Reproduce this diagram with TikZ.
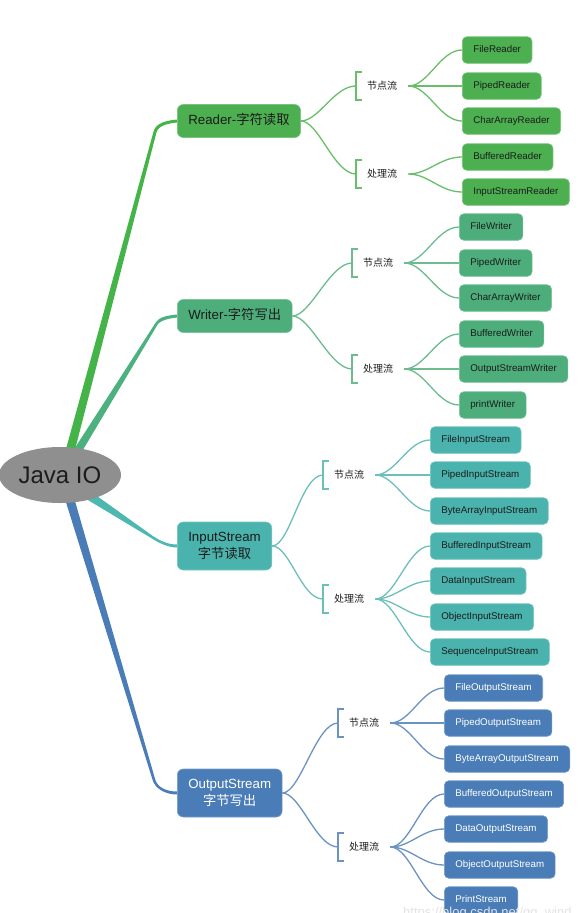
\documentclass[tikz,border=0pt]{standalone}
\usepackage{fontspec}
\setmainfont{Liberation Sans}
\newfontfamily\cjk{Noto Sans CJK SC}
\usetikzlibrary{calc,shapes.geometric,backgrounds}
\definecolor{colR}{HTML}{4CAF50}
\definecolor{colRT}{HTML}{44B449}
\definecolor{colRL}{HTML}{6BBE69}
\definecolor{colW}{HTML}{4DAE7B}
\definecolor{colWT}{HTML}{4DB07F}
\definecolor{colWL}{HTML}{6DBC90}
\definecolor{colI}{HTML}{4AB3AD}
\definecolor{colIT}{HTML}{4DB8B0}
\definecolor{colIL}{HTML}{6CC0BA}
\definecolor{colO}{HTML}{4A7DB7}
\definecolor{colOT}{HTML}{4A7DB8}
\definecolor{colOL}{HTML}{6A93C2}
\definecolor{colTxt}{HTML}{1C1C1C}
\definecolor{colEll}{HTML}{8F8F8F}
\begin{document}
\begin{tikzpicture}[x=1pt,y=-1pt,
  catbox/.style={rounded corners=6pt, inner xsep=11pt, inner ysep=0pt, minimum height=33pt,
    align=center, font=\fontsize{13.3}{17}\selectfont, anchor=west},
  leafbox/.style={rounded corners=4.5pt, inner xsep=11pt, inner ysep=0pt, minimum height=26.5pt,
    text height=7.2pt, text depth=2pt, font=\fontsize{9.75}{12}\selectfont, anchor=west, line width=0.6pt},
  brklbl/.style={inner xsep=11pt, inner ysep=0pt, font=\cjk\fontsize{10}{12}\selectfont, anchor=west, text=colTxt},
  conn/.style={line width=1.3pt},
  grpR/.style={fill=colR, draw=colR!75!white, text=colTxt},
  grpW/.style={fill=colW, draw=colW!75!white, text=colTxt},
  grpI/.style={fill=colI, draw=colI!75!white, text=colTxt},
  grpO/.style={fill=colO, draw=colO!75!white, text=white},
]
\useasboundingbox (0,0) rectangle (584,913);

% ---- root
\node[ellipse, fill=colEll, minimum width=122pt, minimum height=56pt, inner sep=0pt,
  font=\fontsize{24}{28}\selectfont, text=colTxt] (java) at (60,475) {Java IO};

% ---- Reader
\node[catbox, grpR, line width=0.6pt, text height=10pt, text depth=3pt] (reader) at (177,121) {Reader-{\cjk 字符读取}};
\node[brklbl] (rj) at (356,86) {节点流};
\node[brklbl] (rc) at (356,174) {处理流};
\node[leafbox, grpR] (r1) at (462,50) {FileReader};
\node[leafbox, grpR] (r2) at (462,86) {PipedReader};
\node[leafbox, grpR] (r3) at (462,121) {CharArrayReader};
\node[leafbox, grpR] (r4) at (462,157) {BufferedReader};
\node[leafbox, grpR] (r5) at (462,192) {InputStreamReader};

% ---- Writer
\node[catbox, grpW, line width=0.6pt, text height=10pt, text depth=3pt] (writer) at (177,316) {Writer-{\cjk 字符写出}};
\node[brklbl] (wj) at (352,263) {节点流};
\node[brklbl] (wc) at (352,369) {处理流};
\node[leafbox, grpW] (w1) at (459,227) {FileWriter};
\node[leafbox, grpW] (w2) at (459,263) {PipedWriter};
\node[leafbox, grpW] (w3) at (459,298) {CharArrayWriter};
\node[leafbox, grpW] (w4) at (459,334) {BufferedWriter};
\node[leafbox, grpW] (w5) at (459,369) {OutputStreamWriter};
\node[leafbox, grpW] (w6) at (459,405) {printWriter};

% ---- InputStream
\node[catbox, grpI, line width=0.6pt, minimum height=48pt] (instream) at (177,546) {InputStream\\{\cjk 字节读取}};
\node[brklbl] (ij) at (323,475) {节点流};
\node[brklbl] (ic) at (323,599) {处理流};
\node[leafbox, grpI] (i1) at (430,440) {FileInputStream};
\node[leafbox, grpI] (i2) at (430,475) {PipedInputStream};
\node[leafbox, grpI] (i3) at (430,511) {ByteArrayInputStream};
\node[leafbox, grpI] (i4) at (430,546) {BufferedInputStream};
\node[leafbox, grpI] (i5) at (430,581) {DataInputStream};
\node[leafbox, grpI] (i6) at (430,617) {ObjectInputStream};
\node[leafbox, grpI] (i7) at (430,652) {SequenceInputStream};

% ---- OutputStream
\node[catbox, grpO, line width=0.6pt, minimum height=48pt] (outstream) at (177,793) {OutputStream\\{\cjk 字节写出}};
\node[brklbl] (oj) at (338,723) {节点流};
\node[brklbl] (oc) at (338,847) {处理流};
\node[leafbox, grpO] (o1) at (444,688) {FileOutputStream};
\node[leafbox, grpO] (o2) at (444,723) {PipedOutputStream};
\node[leafbox, grpO] (o3) at (444,759) {ByteArrayOutputStream};
\node[leafbox, grpO] (o4) at (444,794) {BufferedOutputStream};
\node[leafbox, grpO] (o5) at (444,829) {DataOutputStream};
\node[leafbox, grpO] (o6) at (444,865) {ObjectOutputStream};
\node[leafbox, grpO] (o7) at (444,900) {PrintStream};

% watermark
\node[anchor=north west, inner sep=0pt, text=gray!22, font=\fontsize{13}{15}\selectfont] (wm) at (403,907) {https://blog.csdn.net/qq\_wind};

\begin{pgfonlayer}{background}
\fill[white] (0,0) rectangle (584,913);
% tapered trunks
\fill[colRT] (64.65,453.8) -- (153.55,131.6) .. controls (155.6,123.2) and (166,120.5) .. ($(reader.west)+(0,-1.5)$)
  -- ($(reader.west)+(0,1.5)$) .. controls (168,123.5) and (158.6,125.2) .. (156.45,132.4) -- (73.35,456.2) -- cycle;
\fill[colWT] (73.6,449.9) -- (155.9,322.3) .. controls (159.2,317.1) and (167,315.5) .. ($(writer.west)+(0,-1.5)$)
  -- ($(writer.west)+(0,1.5)$) .. controls (168,318.5) and (161.7,320.3) .. (158.1,323.7) -- (80.4,454.1) -- cycle;
\fill[colIT] (87.45,489.2) -- (152.7,535.9) .. controls (160,540.8) and (168,544.5) .. ($(instream.west)+(0,-1.5)$)
  -- ($(instream.west)+(0,1.5)$) .. controls (168,547.5) and (159,543) .. (151.3,538.1) -- (82.55,496.8) -- cycle;
\fill[colOT] (65.7,501.3) -- (152.75,780.4) .. controls (155.1,788.2) and (165,794.5) .. ($(outstream.west)+(0,1.5)$)
  -- ($(outstream.west)+(0,-1.5)$) .. controls (166,791.5) and (157.5,787.2) .. (155.25,779.6) -- (74.3,498.7) -- cycle;

% category -> brackets, brackets, fans
\foreach \cat/\a/\b/\col in {reader/rj/rc/colRL, writer/wj/wc/colWL, instream/ij/ic/colIL, outstream/oj/oc/colOL}{
  \foreach \k in {\a,\b}{
    \draw[conn, draw=\col] (\cat.east) .. controls +(18,0) and +(-22,0) .. (\k.west);
    \draw[conn, draw=\col] ($(\k.west)+(6,-14)$) -- ++(-6,0) -- ++(0,28) -- ++(6,0);
  }
}
\foreach \k in {r1,r2,r3}{\draw[conn, draw=colRL] (rj.east) .. controls +(20,0) and +(-22,0) .. (\k.west);}
\foreach \k in {r4,r5}{\draw[conn, draw=colRL] (rc.east) .. controls +(20,0) and +(-22,0) .. (\k.west);}
\foreach \k in {w1,w2,w3}{\draw[conn, draw=colWL] (wj.east) .. controls +(20,0) and +(-22,0) .. (\k.west);}
\foreach \k in {w4,w5,w6}{\draw[conn, draw=colWL] (wc.east) .. controls +(20,0) and +(-22,0) .. (\k.west);}
\foreach \k in {i1,i2,i3}{\draw[conn, draw=colIL] (ij.east) .. controls +(20,0) and +(-22,0) .. (\k.west);}
\foreach \k in {i4,i5,i6,i7}{\draw[conn, draw=colIL] (ic.east) .. controls +(20,0) and +(-22,0) .. (\k.west);}
\foreach \k in {o1,o2,o3}{\draw[conn, draw=colOL] (oj.east) .. controls +(20,0) and +(-22,0) .. (\k.west);}
\foreach \k in {o4,o5,o6,o7}{\draw[conn, draw=colOL] (oc.east) .. controls +(20,0) and +(-22,0) .. (\k.west);}
\end{pgfonlayer}
\end{tikzpicture}
\end{document}
